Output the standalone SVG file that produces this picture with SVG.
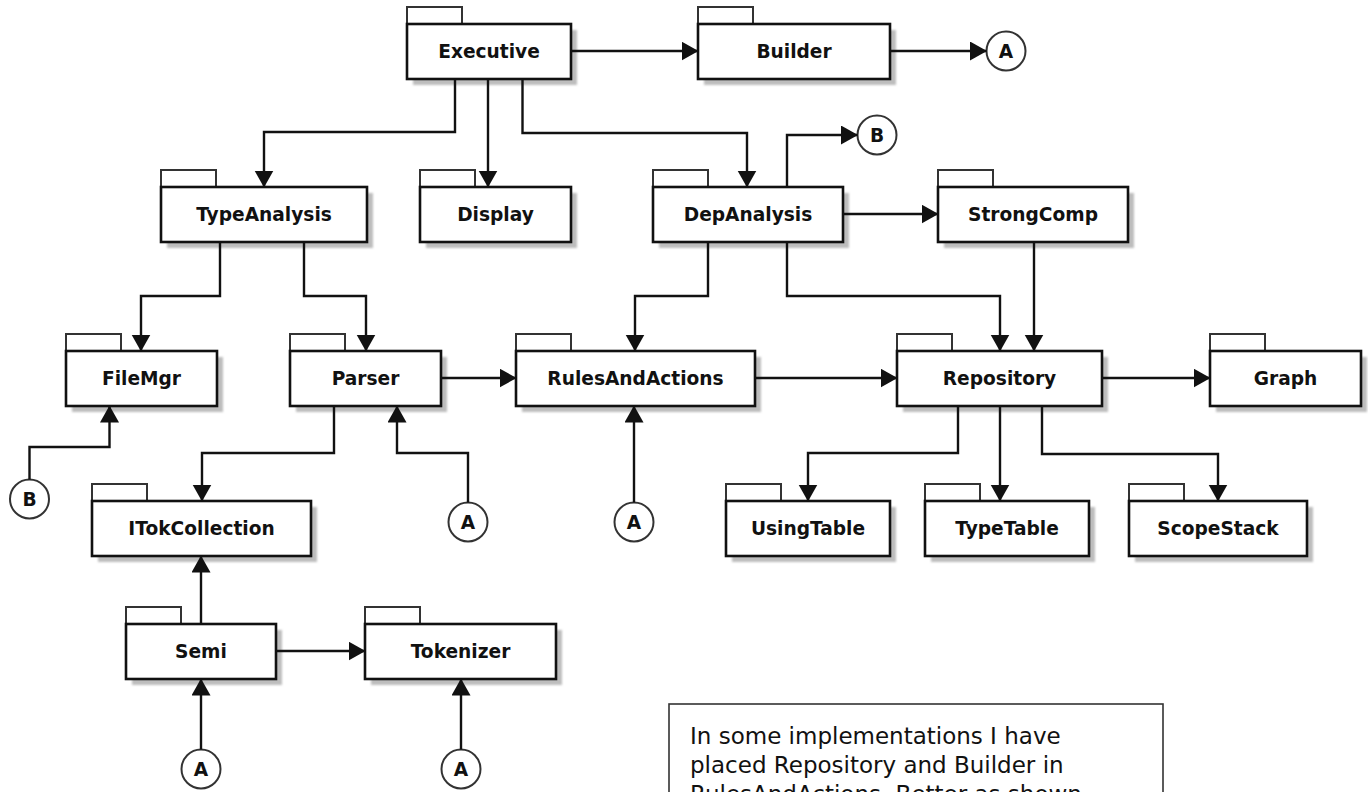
<svg xmlns="http://www.w3.org/2000/svg" width="1368" height="792" viewBox="0 0 1368 792">
<style>
.shadow{fill:#bdbdbd;filter:url(#blur)}
.box{fill:#fff;stroke:#111;stroke-width:2.6}
.tab{fill:#fff;stroke:#333;stroke-width:2}
.lbl{font-family:"DejaVu Sans",Verdana,sans-serif;font-weight:bold;font-size:18.6px;fill:#111;text-anchor:middle}
.circ{fill:#fff;stroke:#333;stroke-width:2}
.conn path{fill:none;stroke:#111;stroke-width:2.4;marker-end:url(#arr)}
.note{fill:#fff;stroke:#333;stroke-width:1.6}
.ntxt{font-family:"DejaVu Sans",Tahoma,sans-serif;font-size:23px;fill:#111}
</style>
<defs>
<filter id="blur" x="-5%" y="-5%" width="110%" height="120%"><feGaussianBlur stdDeviation="0.8"/></filter>
<marker id="arr" markerUnits="userSpaceOnUse" markerWidth="18" markerHeight="20" refX="16.5" refY="9.5" orient="auto"><path d="M0,0 L17,9.5 L0,19 z" fill="#111"/></marker>
</defs>
<rect width="1368" height="792" fill="#fff"/>

<g id="n-executive"><rect class="shadow" x="413" y="30" width="164" height="55"/><rect class="tab" x="407" y="7" width="55" height="17"/><rect class="box" x="407" y="24" width="164" height="55"/><text class="lbl" x="489" y="58">Executive</text></g>
<g id="n-builder"><rect class="shadow" x="704" y="30" width="192" height="55"/><rect class="tab" x="698" y="7" width="55" height="17"/><rect class="box" x="698" y="24" width="192" height="55"/><text class="lbl" x="794" y="58">Builder</text></g>

<g id="n-typeanalysis"><rect class="shadow" x="167" y="193" width="206" height="55"/><rect class="tab" x="161" y="170" width="55" height="17"/><rect class="box" x="161" y="187" width="206" height="55"/><text class="lbl" x="264" y="221">TypeAnalysis</text></g>
<g id="n-display"><rect class="shadow" x="426" y="193" width="151" height="55"/><rect class="tab" x="420" y="170" width="55" height="17"/><rect class="box" x="420" y="187" width="151" height="55"/><text class="lbl" x="495.5" y="221">Display</text></g>
<g id="n-depanalysis"><rect class="shadow" x="659" y="193" width="190" height="55"/><rect class="tab" x="653" y="170" width="55" height="17"/><rect class="box" x="653" y="187" width="190" height="55"/><text class="lbl" x="748" y="221">DepAnalysis</text></g>
<g id="n-strongcomp"><rect class="shadow" x="944" y="193" width="190" height="55"/><rect class="tab" x="938" y="170" width="55" height="17"/><rect class="box" x="938" y="187" width="190" height="55"/><text class="lbl" x="1033" y="221">StrongComp</text></g>

<g id="n-filemgr"><rect class="shadow" x="72" y="357" width="151" height="55"/><rect class="tab" x="66" y="334" width="55" height="17"/><rect class="box" x="66" y="351" width="151" height="55"/><text class="lbl" x="141.5" y="385">FileMgr</text></g>
<g id="n-parser"><rect class="shadow" x="296" y="357" width="151" height="55"/><rect class="tab" x="290" y="334" width="55" height="17"/><rect class="box" x="290" y="351" width="151" height="55"/><text class="lbl" x="365.5" y="385">Parser</text></g>
<g id="n-rulesandactions"><rect class="shadow" x="522" y="357" width="239" height="55"/><rect class="tab" x="516" y="334" width="55" height="17"/><rect class="box" x="516" y="351" width="239" height="55"/><text class="lbl" x="635.5" y="385">RulesAndActions</text></g>
<g id="n-repository"><rect class="shadow" x="903" y="357" width="205" height="55"/><rect class="tab" x="897" y="334" width="55" height="17"/><rect class="box" x="897" y="351" width="205" height="55"/><text class="lbl" x="999.5" y="385">Repository</text></g>
<g id="n-graph"><rect class="shadow" x="1216" y="357" width="151" height="55"/><rect class="tab" x="1210" y="334" width="55" height="17"/><rect class="box" x="1210" y="351" width="151" height="55"/><text class="lbl" x="1285.5" y="385">Graph</text></g>

<g id="n-itokcollection"><rect class="shadow" x="98" y="507" width="219" height="55"/><rect class="tab" x="92" y="484" width="55" height="17"/><rect class="box" x="92" y="501" width="219" height="55"/><text class="lbl" x="201.5" y="535">ITokCollection</text></g>
<g id="n-usingtable"><rect class="shadow" x="732" y="507" width="164" height="55"/><rect class="tab" x="726" y="484" width="55" height="17"/><rect class="box" x="726" y="501" width="164" height="55"/><text class="lbl" x="808" y="535">UsingTable</text></g>
<g id="n-typetable"><rect class="shadow" x="931" y="507" width="164" height="55"/><rect class="tab" x="925" y="484" width="55" height="17"/><rect class="box" x="925" y="501" width="164" height="55"/><text class="lbl" x="1007" y="535">TypeTable</text></g>
<g id="n-scopestack"><rect class="shadow" x="1135" y="507" width="178" height="55"/><rect class="tab" x="1129" y="484" width="55" height="17"/><rect class="box" x="1129" y="501" width="178" height="55"/><text class="lbl" x="1218" y="535">ScopeStack</text></g>

<g id="n-semi"><rect class="shadow" x="132" y="630" width="150" height="55"/><rect class="tab" x="126" y="607" width="55" height="17"/><rect class="box" x="126" y="624" width="150" height="55"/><text class="lbl" x="201" y="658">Semi</text></g>
<g id="n-tokenizer"><rect class="shadow" x="371" y="630" width="191" height="55"/><rect class="tab" x="365" y="607" width="55" height="17"/><rect class="box" x="365" y="624" width="191" height="55"/><text class="lbl" x="460.5" y="658">Tokenizer</text></g>

<g id="c-a1"><circle class="circ" cx="1006" cy="51" r="19.5"/><text class="lbl" x="1006" y="58">A</text></g>
<g id="c-b1"><circle class="circ" cx="877" cy="135" r="19.5"/><text class="lbl" x="877" y="142">B</text></g>
<g id="c-b2"><circle class="circ" cx="29.5" cy="499" r="19.5"/><text class="lbl" x="29.5" y="506">B</text></g>
<g id="c-a2"><circle class="circ" cx="468" cy="522" r="19.5"/><text class="lbl" x="468" y="529">A</text></g>
<g id="c-a3"><circle class="circ" cx="634" cy="522" r="19.5"/><text class="lbl" x="634" y="529">A</text></g>
<g id="c-a4"><circle class="circ" cx="201" cy="769" r="19.5"/><text class="lbl" x="201" y="776">A</text></g>
<g id="c-a5"><circle class="circ" cx="461" cy="769" r="19.5"/><text class="lbl" x="461" y="776">A</text></g>

<g class="conn" id="connectors">
<path d="M571,51 H698"/>
<path d="M890,51 H986.5"/>
<path d="M455,79 V132 H264 V187"/>
<path d="M488,79 V187"/>
<path d="M522.5,79 V133 H747 V187"/>
<path d="M787,187 V135 H857.5"/>
<path d="M843,214 H938"/>
<path d="M708,242 V296 H635 V351"/>
<path d="M787,242 V296 H1000 V351"/>
<path d="M1034,242 V351"/>
<path d="M220,242 V296 H141 V351"/>
<path d="M304,242 V296 H366 V351"/>
<path d="M441,378 H516"/>
<path d="M755,378 H897"/>
<path d="M1102,378 H1210"/>
<path d="M29.5,479.5 V447 H109.5 V406"/>
<path d="M334,406 V453 H202 V501"/>
<path d="M468,502.5 V453 H397 V406"/>
<path d="M634,502.5 V406"/>
<path d="M958,406 V453 H808 V501"/>
<path d="M1000,406 V501"/>
<path d="M1042,406 V454 H1218 V501"/>
<path d="M201,624 V556"/>
<path d="M276,651 H365"/>
<path d="M201,749.5 V679"/>
<path d="M461,749.5 V679"/>
</g>

<g id="note"><rect class="note" x="669" y="704" width="494" height="140"/>
<text class="ntxt" x="690" y="744">In some implementations I have</text>
<text class="ntxt" x="690" y="773">placed Repository and Builder in</text>
<text class="ntxt" x="690" y="802">RulesAndActions.  Better as shown</text>
</g>
</svg>
